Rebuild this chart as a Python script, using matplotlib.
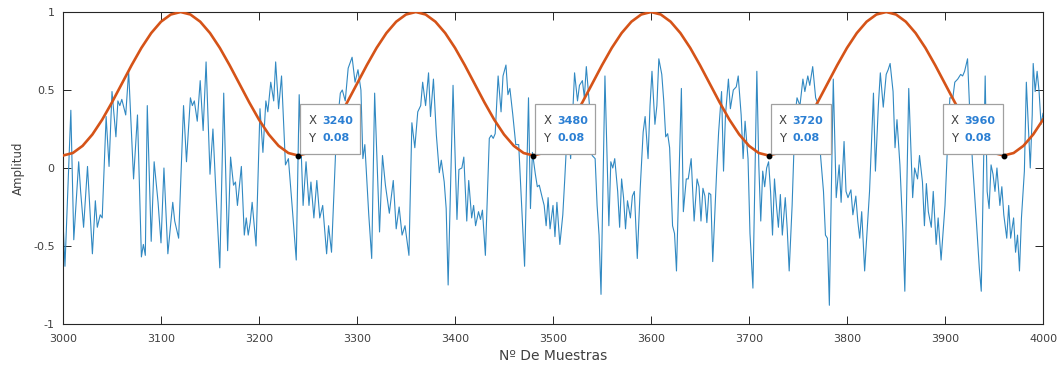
import matplotlib
matplotlib.use("Agg")
import matplotlib.pyplot as plt
from matplotlib import transforms
from matplotlib.patches import Rectangle

# ---- measured signal (sample index, amplitude) ----
sample_idx = [
    3000, 3002, 3008, 3011, 3016, 3018, 3021, 3025, 3030, 3033, 3035, 3038, 3040, 3044,
    3047, 3050, 3054, 3056, 3058, 3060, 3064, 3067, 3072, 3076, 3080, 3082, 3084, 3086,
    3090, 3093, 3097, 3100, 3103, 3107, 3112, 3114, 3118, 3123, 3126, 3130, 3132, 3134,
    3137, 3140, 3143, 3146, 3150, 3153, 3156, 3160, 3164, 3168, 3171, 3174, 3176, 3178,
    3182, 3185, 3187, 3189, 3191, 3193, 3197, 3201, 3204, 3207, 3209, 3212, 3215, 3217,
    3220, 3223, 3227, 3230, 3234, 3238, 3241, 3245, 3248, 3251, 3253, 3256, 3259, 3262,
    3265, 3269, 3271, 3274, 3279, 3283, 3285, 3288, 3291, 3295, 3298, 3301, 3304, 3306,
    3308, 3310, 3312, 3315, 3318, 3323, 3326, 3329, 3333, 3337, 3340, 3343, 3346, 3349,
    3353, 3356, 3359, 3362, 3365, 3367, 3370, 3373, 3375, 3378, 3381, 3384, 3386, 3389,
    3391, 3393, 3398, 3402, 3404, 3407, 3409, 3412, 3414, 3417, 3419, 3421, 3424, 3426,
    3428, 3431, 3435, 3437, 3439, 3441, 3444, 3447, 3449, 3452, 3454, 3456, 3459, 3462,
    3465, 3468, 3471, 3475, 3477, 3479, 3482, 3484, 3486, 3489, 3491, 3493, 3495, 3497,
    3500, 3502, 3504, 3507, 3510, 3512, 3515, 3518, 3522, 3525, 3527, 3530, 3532, 3534,
    3538, 3540, 3543, 3545, 3547, 3549, 3553, 3557, 3559, 3561, 3563, 3566, 3568, 3570,
    3572, 3574, 3576, 3579, 3581, 3583, 3586, 3589, 3592, 3594, 3597, 3599, 3601, 3604,
    3606, 3608, 3611, 3613, 3615, 3617, 3619, 3622, 3624, 3626, 3631, 3633, 3636, 3638,
    3641, 3644, 3647, 3649, 3651, 3653, 3655, 3657, 3659, 3661, 3663, 3667, 3669, 3672,
    3674, 3676, 3679, 3681, 3684, 3687, 3689, 3692, 3694, 3696, 3699, 3701, 3704, 3708,
    3710, 3712, 3714, 3716, 3718, 3720, 3722, 3724, 3726, 3728, 3730, 3732, 3734, 3737,
    3739, 3741, 3744, 3747, 3749, 3752, 3755, 3757, 3760, 3762, 3765, 3768, 3771, 3773,
    3776, 3778, 3780, 3782, 3786, 3789, 3792, 3794, 3797, 3799, 3801, 3804, 3806, 3809,
    3811, 3813, 3815, 3818, 3823, 3827, 3829, 3832, 3834, 3837, 3840, 3842, 3844, 3847,
    3849, 3851, 3854, 3857, 3859, 3863, 3867, 3869, 3872, 3874, 3877, 3879, 3881, 3883,
    3886, 3888, 3891, 3893, 3896, 3900, 3903, 3905, 3908, 3910, 3913, 3916, 3918, 3920,
    3923, 3925, 3928, 3932, 3935, 3937, 3941, 3943, 3945, 3947, 3949, 3951, 3953, 3956,
    3958, 3960, 3963, 3965, 3967, 3970, 3972, 3974, 3976, 3978, 3981, 3983, 3985, 3987,
    3989, 3990, 3992, 3994, 3996, 3998, 4000,
]
amplitude = [
    -0.34, -0.63, 0.37, -0.46, 0.04, -0.15, -0.38, 0.01, -0.55, -0.21, -0.38, -0.30, -0.32, 0.33,
    0.01, 0.49, 0.20, 0.43, 0.40, 0.44, 0.34, 0.62, -0.07, 0.34, -0.57, -0.49, -0.56, 0.40,
    -0.47, 0.04, -0.22, -0.48, 0.00, -0.55, -0.22, -0.34, -0.45, 0.40, 0.04, 0.45, 0.40, 0.43,
    0.30, 0.56, 0.24, 0.68, -0.04, 0.25, -0.15, -0.64, 0.48, -0.53, 0.07, -0.11, -0.09, -0.24,
    0.01, -0.43, -0.32, -0.43, -0.35, -0.22, -0.50, 0.38, 0.10, 0.43, 0.36, 0.55, 0.43, 0.68,
    0.38, 0.59, 0.02, 0.06, -0.26, -0.59, 0.47, -0.24, 0.04, -0.24, -0.09, -0.32, -0.08, -0.32,
    -0.24, -0.55, -0.37, -0.54, 0.23, 0.48, 0.50, 0.43, 0.64, 0.71, 0.55, 0.63, 0.50, 0.06,
    0.15, -0.07, -0.30, -0.58, 0.48, -0.41, 0.08, -0.11, -0.29, -0.08, -0.39, -0.25, -0.43, -0.37,
    -0.56, 0.29, 0.13, 0.36, 0.40, 0.55, 0.40, 0.61, 0.33, 0.57, 0.21, -0.03, 0.05, -0.09,
    -0.26, -0.75, 0.53, -0.33, -0.01, 0.00, 0.07, -0.34, -0.08, -0.32, -0.24, -0.37, -0.28, -0.33,
    -0.27, -0.56, 0.19, 0.21, 0.19, 0.22, 0.59, 0.36, 0.59, 0.66, 0.47, 0.51, 0.34, 0.15,
    0.15, -0.24, -0.63, 0.45, -0.26, 0.10, -0.04, -0.12, -0.11, -0.19, -0.24, -0.37, -0.19, -0.39,
    -0.24, -0.44, -0.22, -0.49, -0.30, -0.07, 0.30, 0.06, 0.61, 0.43, 0.53, 0.56, 0.45, 0.65,
    0.34, 0.08, 0.06, -0.24, -0.43, -0.81, 0.59, -0.37, 0.04, 0.00, 0.06, -0.15, -0.38, -0.07,
    -0.19, -0.39, -0.21, -0.32, -0.18, -0.15, -0.58, -0.13, 0.23, 0.33, 0.06, 0.40, 0.62, 0.28,
    0.40, 0.70, 0.60, 0.43, 0.20, 0.22, 0.13, -0.37, -0.42, -0.66, 0.51, -0.28, -0.07, -0.07,
    0.06, -0.34, -0.07, -0.12, -0.34, -0.13, -0.18, -0.35, -0.16, -0.17, -0.60, -0.02, 0.23, 0.49,
    -0.02, 0.34, 0.57, 0.38, 0.50, 0.52, 0.59, 0.34, 0.06, 0.30, 0.06, -0.42, -0.77, 0.62,
    0.02, -0.34, -0.02, -0.12, 0.00, 0.04, -0.15, -0.43, -0.07, -0.24, -0.38, -0.17, -0.43, -0.19,
    -0.39, -0.66, -0.24, 0.34, 0.45, 0.40, 0.57, 0.49, 0.59, 0.53, 0.65, 0.45, 0.40, 0.08,
    -0.15, -0.43, -0.45, -0.88, 0.57, -0.19, 0.02, -0.22, 0.17, -0.15, -0.19, -0.14, -0.30, -0.18,
    -0.34, -0.45, -0.28, -0.66, -0.15, 0.48, -0.02, 0.40, 0.61, 0.39, 0.60, 0.63, 0.67, 0.49,
    0.13, 0.31, 0.02, -0.41, -0.79, 0.51, -0.19, 0.00, -0.07, 0.08, -0.09, -0.37, -0.10, -0.28,
    -0.38, -0.15, -0.49, -0.32, -0.59, -0.24, 0.21, 0.45, 0.45, 0.55, 0.57, 0.60, 0.59, 0.62,
    0.70, 0.40, 0.04, -0.34, -0.64, -0.79, 0.59, -0.15, -0.26, 0.02, -0.04, -0.15, 0.00, -0.24,
    -0.12, -0.30, -0.45, -0.24, -0.45, -0.32, -0.54, -0.43, -0.66, -0.32, -0.02, 0.55, 0.28, 0.00,
    0.34, 0.67, 0.49, 0.62, 0.49, 0.28, 0.35,
]

# ---- window curve (sample index, value) ----
window_idx = list(range(3000, 4001, 10))
window_vals = [
    0.080, 0.096, 0.142, 0.215, 0.310, 0.421, 0.540, 0.659, 0.770, 0.865, 0.938, 0.984,
    1.000, 0.984, 0.938, 0.865, 0.770, 0.659, 0.540, 0.421, 0.310, 0.215, 0.142, 0.096,
    0.080, 0.096, 0.142, 0.215, 0.310, 0.421, 0.540, 0.659, 0.770, 0.865, 0.938, 0.984,
    1.000, 0.984, 0.938, 0.865, 0.770, 0.659, 0.540, 0.421, 0.310, 0.215, 0.142, 0.096,
    0.080, 0.096, 0.142, 0.215, 0.310, 0.421, 0.540, 0.659, 0.770, 0.865, 0.938, 0.984,
    1.000, 0.984, 0.938, 0.865, 0.770, 0.659, 0.540, 0.421, 0.310, 0.215, 0.142, 0.096,
    0.080, 0.096, 0.142, 0.215, 0.310, 0.421, 0.540, 0.659, 0.770, 0.865, 0.938, 0.984,
    1.000, 0.984, 0.938, 0.865, 0.770, 0.659, 0.540, 0.421, 0.310, 0.215, 0.142, 0.096,
    0.080, 0.096, 0.142, 0.215, 0.310,
]

# ---- data tips ----
tip_x = [3240, 3480, 3720, 3960]
tip_y = [0.08, 0.08, 0.08, 0.08]

x_ticks = list(range(3000, 4001, 100))
y_ticks = [-1, -0.5, 0, 0.5, 1]
y_tick_labels = ["-1", "-0.5", "0", "0.5", "1"]

plt.rcParams["font.family"] = ["DejaVu Sans"]
AX_COLOR = "#262626"
TXT_COLOR = "#404040"

W, H = 1059, 372
fig = plt.figure(figsize=(W / 100, H / 100), dpi=100, facecolor="white")
ax = fig.add_axes([63 / W, 1 - 324 / H, 980 / W, 312 / H])

ax.plot(sample_idx, amplitude, color="#3189c2", lw=0.8, zorder=2)
ax.plot(window_idx, window_vals, color="#d55318", lw=1.9, zorder=3)

ax.set_xlim(3000, 4000)
ax.set_ylim(-1, 1)
ax.set_xticks(x_ticks)
ax.set_yticks(y_ticks)
ax.set_yticklabels(y_tick_labels)
ax.tick_params(direction="in", length=5.5, width=0.7, color=AX_COLOR,
               labelcolor=TXT_COLOR, labelsize=8, top=True, right=True)
ax.tick_params(axis="x", pad=7)
ax.tick_params(axis="y", pad=6)
for sp in ax.spines.values():
    sp.set_color(AX_COLOR)
    sp.set_linewidth(0.8)

ax.set_xlabel("Nº De Muestras", fontsize=10, color=TXT_COLOR, labelpad=4)
ax.set_ylabel("Amplitud", fontsize=8.5, color=TXT_COLOR, labelpad=6)


def anchored(x, y, dx, dy):
    """Pixel offset (dx, dy) from data point (x, y)."""
    return transforms.Affine2D().translate(dx, dy) + \
        transforms.ScaledTranslation(x, y, ax.transData)


BOX_W, BOX_H = 60, 50
for x, y in zip(tip_x, tip_y):
    left = 2 if x < 3900 else -1 - BOX_W
    box = Rectangle((0, 0), BOX_W, BOX_H, transform=anchored(x, y, left, 2),
                    facecolor="white", edgecolor="#a0a0a0", lw=0.9, zorder=5,
                    clip_on=False)
    ax.add_patch(box)
    ax.plot([x], [y], "o", color="black", ms=3.2, zorder=6, clip_on=False)
    rows = [("X", f"{x}", 35), ("Y", f"{y:.2f}", 17.5)]
    for key, val, dy in rows:
        ax.text(0, 0, key, transform=anchored(x, y, left + 8, dy), fontsize=8.5,
                color="#404040", va="center", ha="left", zorder=7)
        ax.text(0, 0, val, transform=anchored(x, y, left + 22, dy), fontsize=8,
                color="#2b7fd3", fontweight="bold", va="center", ha="left", zorder=7)

fig.savefig("out.png", dpi=100, facecolor="white")
